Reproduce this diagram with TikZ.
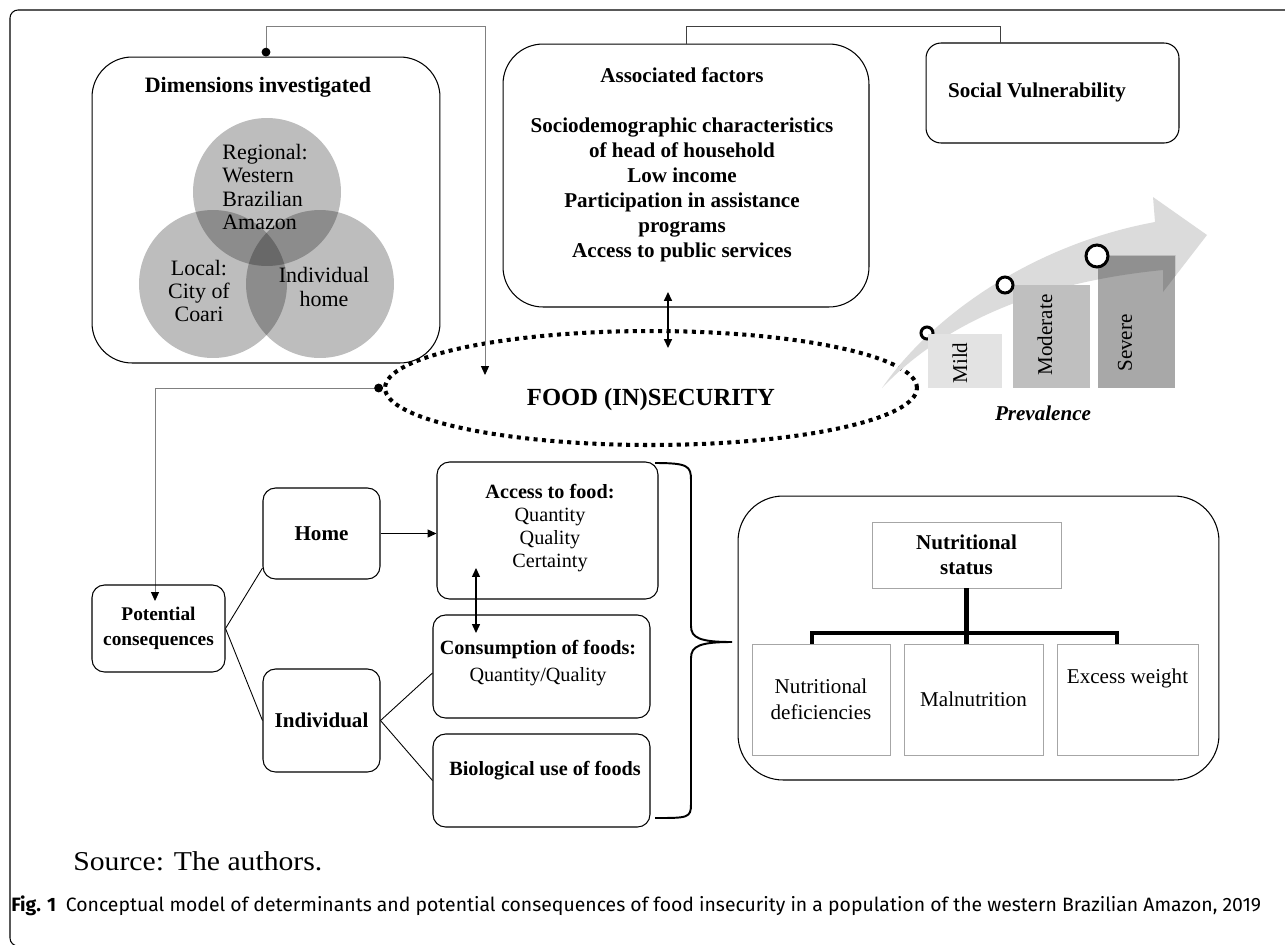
\documentclass[tikz,border=0pt]{standalone}
\usepackage{fontspec}
\setmainfont{Liberation Serif}
\newfontfamily\capfont{Fira Sans}
\usepackage{graphicx}
\usetikzlibrary{shapes.geometric, arrows.meta, shadows, positioning}
\tikzstyle{roundbox} = [draw=black, line width=0.6pt, rounded corners=0.8cm]
\tikzstyle{smallbox} = [draw=black, line width=0.6pt, rounded corners=0.25cm, align=center]
\tikzstyle{treebox} = [draw=black!35, fill=white, align=center, drop shadow={opacity=0.25, shadow xshift=0.7pt, shadow yshift=-0.7pt}]
\tikzstyle{venn} = [circle, fill=black, fill opacity=0.26, minimum size=2.96cm]
\tikzstyle{venntext} = [align=center, inner sep=0pt, font=\fontsize{12.5}{13.2}\selectfont]
\tikzstyle{graylink} = [draw=black!50, line width=0.5pt]
\tikzstyle{arrow} = [line width=0.6pt, -{Triangle[length=5pt, width=4.5pt]}]
\tikzstyle{twoarrow} = [line width=0.8pt, {Triangle[length=5pt, width=4.5pt]}-{Triangle[length=5pt, width=4.5pt]}]
\tikzstyle{treeline} = [line width=2.4pt]
\tikzstyle{bar} = [anchor=south west, inner sep=0pt]
\tikzstyle{ring} = [circle, draw=black, fill=white, line width=1.7pt, inner sep=0pt]
\tikzstyle{riseshape} = [insert path={(882,388) .. controls (930,318) and (1030,245) .. (1155,222) -- (1153,197) -- (1207,235) -- (1163,292) -- (1163,270) .. controls (1040,282) and (945,322) .. cycle}]

\begin{document}
\begin{tikzpicture}[x=0.02cm, y=-0.02cm, font=\fontsize{12}{14}\selectfont]
    \useasboundingbox (0,0) rectangle (1285,944);
    \clip (0,0) rectangle (1285,944);
    \draw[rounded corners=0.16cm, line width=0.6pt] (1300,10) -- (10,10) -- (10,946) -- (1300,946);

    % dimensions investigated
    \node (dims) [roundbox, minimum width=6.96cm, minimum height=6.12cm] at (266,210) {};
    \node (dimstitle) [font=\fontsize{12.5}{14}\selectfont\bfseries] at (258,87) {Dimensions investigated};
    \node (regional) [venn] at (267,192) {};
    \node (local) [venn] at (213,284) {};
    \node (indiv) [venn] at (320,284) {};
    \node (regionaltext) [venntext, align=left, anchor=west] at (222,187) {Regional:\\Western\\Brazilian\\Amazon};
    \node (localtext) [venntext] at (199,291) {Local:\\City of\\Coari};
    \node (indivtext) [venntext] at (324,287) {Individual\\home};

    % associated factors and social vulnerability
    \node (assoc) [roundbox, minimum width=7.32cm, minimum height=5.26cm] at (686,175.5) {};
    \node (assoctext) [align=center, font=\fontsize{12}{14.2}\selectfont\bfseries] at (682,165)
        {Associated factors\\[14.2pt]Sociodemographic characteristics\\of head of household\\Low income\\Participation in assistance\\programs\\Access to public services};
    \node (social) [draw, line width=0.6pt, rounded corners=0.3cm, minimum width=5.06cm, minimum height=2cm] at (1052.5,93) {};
    \node (socialtext) [font=\fontsize{12}{14}\selectfont\bfseries] at (1037,92) {Social Vulnerability};
    \coordinate (socialtop) at (1000,43);
    \draw[draw=black!75, line width=0.5pt] (assoc.north) -- ++(0,-17) -| (socialtop);

    % food (in)security
    \node (food) [ellipse, draw, line width=2.3pt, dash pattern=on 2.3pt off 2.5pt, minimum width=10.64cm, minimum height=2.28cm] at (651,388) {};
    \node (foodtext) [font=\fontsize{14}{16}\selectfont\bfseries] at (651,400) {FOOD (IN)SECURITY};

    \coordinate (dimsturn) at (485,26);
    \coordinate (dimsend) at (485,375);
    \draw[graylink, {Circle[length=5pt, color=black]}-{Triangle[length=5pt, width=4.5pt, color=black]}] (dims.north) |- (dimsturn) -- (dimsend);
    \coordinate (assocbottom) at (668,292);
    \coordinate (foodtop) at (668,348);
    \draw[twoarrow] (assocbottom) -- (foodtop);
    \coordinate (pottip) at (155,601);
    \draw[graylink, {Circle[length=5pt, color=black]}-{Triangle[length=5pt, width=4.5pt, color=black]}] (food.west) -| (pottip);

    % potential consequences
    \node (potential) [smallbox, minimum width=2.66cm, minimum height=1.74cm, font=\fontsize{11}{14}\selectfont\bfseries] at (158.5,628.5) {Potential\\consequences};
    \node (home) [smallbox, minimum width=2.34cm, minimum height=1.82cm, font=\fontsize{12}{14}\selectfont\bfseries] at (321.5,533.5) {Home};
    \node (individual) [smallbox, minimum width=2.34cm, minimum height=2.06cm, font=\fontsize{12}{14}\selectfont\bfseries] at (321.5,720.5) {Individual};
    \node (access) [smallbox, minimum width=4.42cm, minimum height=2.74cm] at (547.5,530.5) {};
    \node (accesstext) [align=center, font=\fontsize{11.5}{13.2}\selectfont] at (550,528) {\textbf{Access to food:}\\Quantity\\Quality\\Certainty};
    \node (consumption) [smallbox, minimum width=4.34cm, minimum height=2.06cm] at (541.5,666.5) {};
    \node (consumptiontext) [align=center, font=\fontsize{11.5}{13.2}\selectfont] at (538,663) {\textbf{Consumption of foods:}\\[2.5pt]Quantity/Quality};
    \node (biological) [smallbox, minimum width=4.34cm, minimum height=1.86cm] at (541.5,780.5) {};
    \node (biologicaltext) [font=\fontsize{11.5}{13.2}\selectfont\bfseries] at (545,771) {Biological use of foods};

    \draw[line width=0.5pt] (potential.east) -- ([yshift=-0.69cm]home.west);
    \draw[line width=0.5pt] (potential.east) -- (individual.west);
    \draw[arrow] (home.east) -- (access.west |- home.east);
    \coordinate (accesslow) at (476,568);
    \coordinate (consumptionhigh) at (476,633);
    \draw[twoarrow, line width=0.6pt] (accesslow) -- (consumptionhigh);
    \draw[line width=0.5pt] (individual.east) -- ([yshift=-0.13cm]consumption.west);
    \draw[line width=0.5pt] (individual.east) -- (biological.west);

    % brace
    \coordinate (bracetip) at (732,642);
    \draw[line width=1.1pt] (655,463) .. controls (688,463) and (691,466) .. (691,480) -- (691,626)
        .. controls (691,638) and (700,642) .. (bracetip)
        .. controls (700,642) and (691,646) .. (691,658) -- (691,804)
        .. controls (691,818) and (688,818) .. (655,818);

    % nutritional status
    \node (nutri) [roundbox, rounded corners=0.9cm, minimum width=9.62cm, minimum height=5.68cm] at (978.5,638) {};
    \node (status) [treebox, minimum width=3.78cm, minimum height=1.32cm, font=\fontsize{12}{14.5}\selectfont\bfseries] at (966.5,555) {Nutritional\\status};
    \node (deficiencies) [treebox, minimum width=2.76cm, minimum height=2.22cm, font=\fontsize{12}{14.5}\selectfont] at (821,699.5) {Nutritional\\deficiencies};
    \node (malnutrition) [treebox, minimum width=2.78cm, minimum height=2.22cm] at (973.5,699.5) {Malnutrition};
    \node (excess) [treebox, minimum width=2.82cm, minimum height=2.22cm] at (1127.5,699.5) {Excess weight\\[12pt]};
    \coordinate (branch) at (966,633);
    \draw[treeline] (status.south) -- (status.south |- malnutrition.north);
    \draw[treeline] ([xshift=-0.18cm]deficiencies.north) |- (branch) -| ([xshift=-0.21cm]excess.north);

    % prevalence
    \fill[black!14, riseshape];
    \node (mildmark) [ring, minimum size=0.24cm] at (927,333) {};
    \node (mild) [bar, fill=black!11, minimum width=1.48cm, minimum height=1.08cm] at (928,388) {};
    \node (moderate) [bar, fill=black!25, minimum width=1.54cm, minimum height=2.06cm] at (1013,388) {};
    \node (severe) [bar, fill=black!34, minimum width=1.54cm, minimum height=2.64cm] at (1098,388) {};
    \begin{scope}
        \clip (severe.south west) rectangle (severe.north east);
        \fill[black, opacity=0.14, riseshape];
    \end{scope}
    \node (moderatemark) [ring, minimum size=0.32cm] at (1005,285) {};
    \node (severemark) [ring, minimum size=0.44cm] at (1097,256) {};
    \node (mildlabel) [rotate=90] at (960,363) {Mild};
    \node (moderatelabel) [rotate=90] at (1045,335) {Moderate};
    \node (severelabel) [rotate=90] at (1125,343) {Severe};
    \node (prevalence) [font=\fontsize{12}{14}\selectfont\bfseries\itshape] at (1043,413) {Prevalence};

    % source and caption
    \node (source) [anchor=west, inner sep=0pt] at (73,861) {\resizebox{4.98cm}{\height}{\fontsize{15.5}{17}\selectfont Source: The authors.}};
    \node (caption) [anchor=west, inner sep=0pt] at (11,906) {\resizebox{25cm}{\height}{\capfont\fontsize{11}{13}\selectfont\textbf{Fig. 1}\enspace Conceptual model of determinants and potential consequences of food insecurity in a population of the western Brazilian Amazon, 2019}};
\end{tikzpicture}
\end{document}
